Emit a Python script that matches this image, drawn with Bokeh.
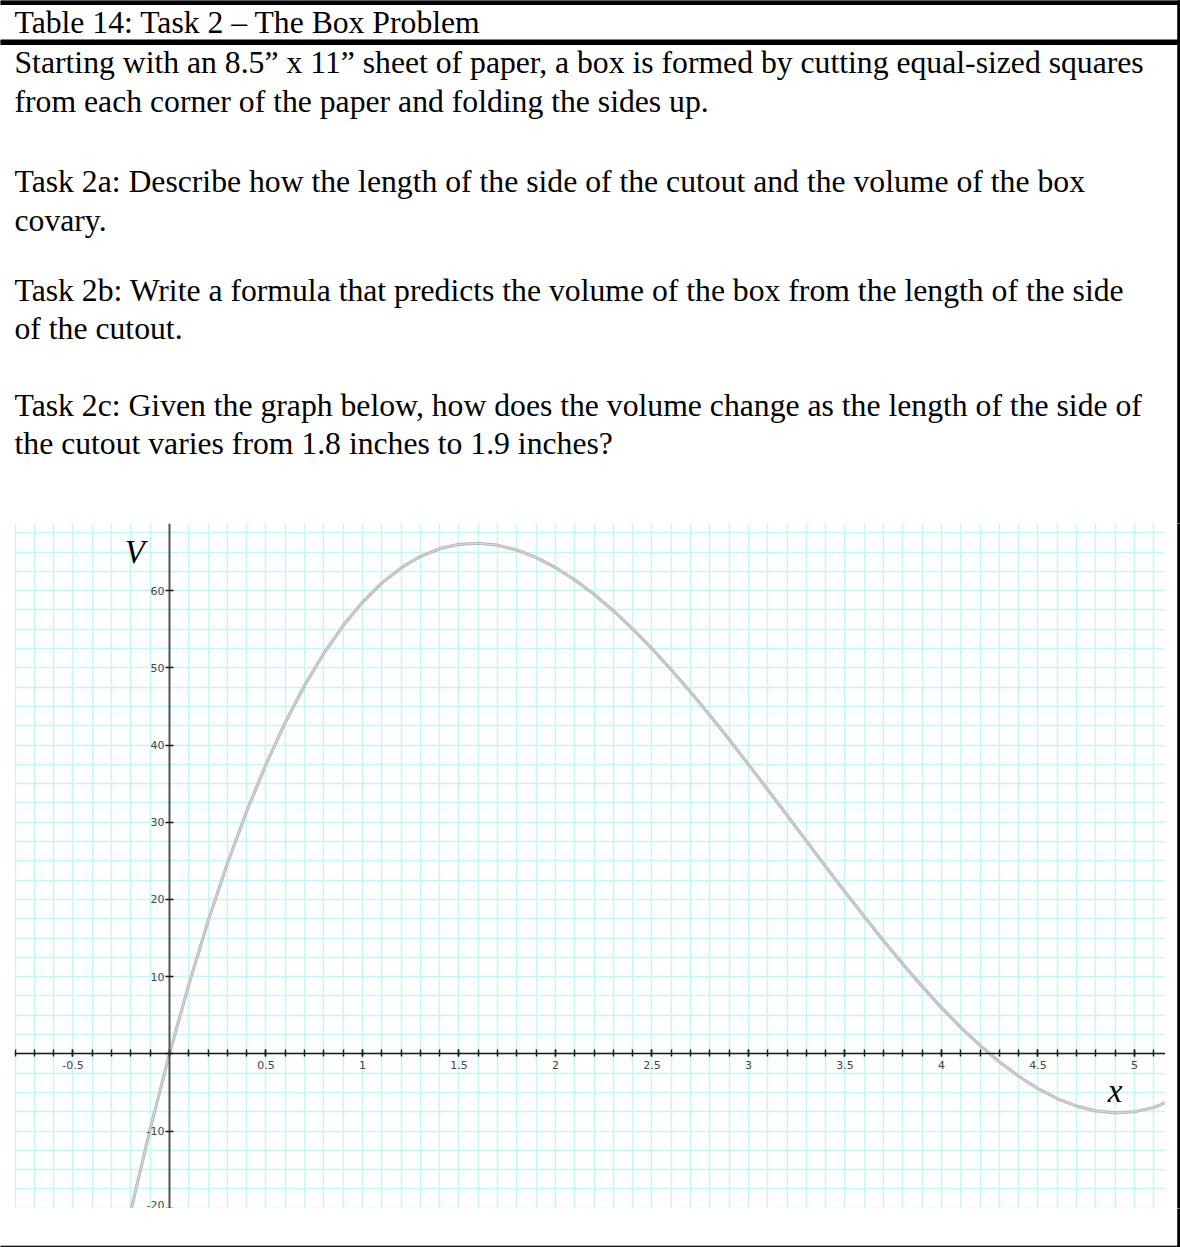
from bokeh.plotting import figure
from bokeh.layouts import column, row
from bokeh.models import (Range1d, LinearAxis, FixedTicker, Grid, Label,
                          NumeralTickFormatter)
from bokeh.core.properties import value
from bokeh.embed import file_html
from bokeh.resources import INLINE

# ---- text of the task sheet ----
header = "Table 14: Task 2 \u2013 The Box Problem"
body_lines = [
    "Starting with an 8.5\u201d x 11\u201d sheet of paper, a box is formed by cutting equal-sized squares",
    "from each corner of the paper and folding the sides up.",
    "Task 2a: Describe how the length of the side of the cutout and the volume of the box",
    "covary.",
    "Task 2b: Write a formula that predicts the volume of the box from the length of the side",
    "of the cutout.",
    "Task 2c: Given the graph below, how does the volume change as the length of the side of",
    "the cutout varies from 1.8 inches to 1.9 inches?",
]
body_rows = [62, 101, 181, 220, 290, 328, 405, 443]

# ---- curve: cutout side x (in) vs box volume V (in^3) ----
cutout_in = [-0.2, -0.1, 0.0, 0.1, 0.2, 0.3, 0.4, 0.5, 0.6, 0.7, 0.8, 0.9,
             1.0, 1.1, 1.2, 1.3, 1.4, 1.5, 1.6, 1.7, 1.8, 1.9, 2.0, 2.1,
             2.2, 2.3, 2.4, 2.5, 2.6, 2.7, 2.8, 2.9, 3.0, 3.1, 3.2, 3.3,
             3.4, 3.5, 3.6, 3.7, 3.8, 3.9, 4.0, 4.1, 4.2, 4.3, 4.4, 4.5,
             4.6, 4.7, 4.8, 4.9, 5.0, 5.1, 5.2]
volume_in3 = [-20.3, -9.74, 0.0, 8.96, 17.17, 24.65, 31.42, 37.5, 42.92, 47.71,
              51.89, 55.48, 58.5, 60.98, 62.95, 64.43, 65.44, 66.0, 66.14, 65.89,
              65.27, 64.3, 63.0, 61.4, 59.53, 57.41, 55.06, 52.5, 49.76, 46.87,
              43.85, 40.72, 37.5, 34.22, 30.91, 27.59, 24.28, 21.0, 17.78, 14.65,
              11.63, 8.74, 6.0, 3.44, 1.09, -1.03, -2.9, -4.5, -5.8, -6.77,
              -7.39, -7.64, -7.5, -6.94, -5.93]

# ---- axis ticks ----
x_major = [-0.5, 0.0, 0.5, 1.0, 1.5, 2.0, 2.5, 3.0, 3.5, 4.0, 4.5, 5.0]
x_minor = [round(-0.8 + 0.1 * i, 1) for i in range(60)]
y_major = [-20, -10, 0, 10, 20, 30, 40, 50, 60]
y_grid = [-20 + 2.5 * i for i in range(36)]

SERIF = "Liberation Serif"
PAGE_W = 1180


def blank_fig(w, h, xr, yr):
    f = figure(width=w, height=h, x_range=xr, y_range=yr,
               x_axis_location=None, y_axis_location=None,
               toolbar_location=None, output_backend="svg",
               min_border=0, outline_line_color=None)
    f.grid.visible = False
    return f


# ---- top block: header cell and task text ----
top = blank_fig(PAGE_W, 523, Range1d(0, PAGE_W), Range1d(523, 0))
top.quad(left=0, right=PAGE_W, top=0, bottom=4, color="black")
top.quad(left=0, right=PAGE_W, top=39.5, bottom=44, color="black")
top.quad(left=1177.3, right=PAGE_W, top=0, bottom=523, color="black")
top.text(x=[14], y=[22], text=[header], text_font=value(SERIF),
         text_font_size="31.7px", text_color="black",
         text_baseline="middle", text_align="left")
top.text(x=[14] * len(body_lines), y=body_rows, text=body_lines,
         text_font=value(SERIF), text_font_size="31.7px", text_color="black",
         text_baseline="middle", text_align="left")

# ---- graph ----
chart = figure(width=1165, height=685,
               x_range=Range1d(-0.803, 5.161), y_range=Range1d(-20.03, 68.7),
               x_axis_location=None, y_axis_location=None,
               toolbar_location=None, output_backend="svg",
               min_border_left=14, min_border_right=0,
               min_border_top=0, min_border_bottom=0,
               outline_line_color=None)
chart.grid.visible = False

grid_color = "#c4f6f6"
chart.add_layout(Grid(dimension=0, ticker=FixedTicker(ticks=x_minor),
                      grid_line_color=grid_color, grid_line_width=1.5), "center")
chart.add_layout(Grid(dimension=1, ticker=FixedTicker(ticks=y_grid),
                      grid_line_color=grid_color, grid_line_width=1.5), "center")

chart.line(cutout_in, volume_in3, line_color="#bababa", line_width=3.2)
chart.line(cutout_in, volume_in3, line_color="#dedede", line_width=0.9)

label_font = "DejaVu Sans"
xaxis = LinearAxis(fixed_location=0,
                   ticker=FixedTicker(ticks=x_major, minor_ticks=x_minor),
                   formatter=NumeralTickFormatter(format="0.[0]"),
                   major_label_overrides={0: ""},
                   axis_line_color="#1a1a1a", axis_line_width=1.5,
                   major_tick_line_color="#1a1a1a", major_tick_line_width=1.5,
                   minor_tick_line_color="#1a1a1a", minor_tick_line_width=1.5,
                   major_tick_in=4, major_tick_out=3,
                   minor_tick_in=4, minor_tick_out=3,
                   major_label_standoff=4,
                   major_label_text_font=label_font,
                   major_label_text_font_size="11px",
                   major_label_text_color="#444444")
chart.add_layout(xaxis, "below")

yaxis = LinearAxis(fixed_location=0,
                   ticker=FixedTicker(ticks=y_major),
                   formatter=NumeralTickFormatter(format="0"),
                   major_label_overrides={0: ""},
                   axis_line_color="#555555", axis_line_width=2,
                   major_tick_line_color="#1a1a1a", major_tick_line_width=1.5,
                   minor_tick_line_color=None,
                   major_tick_in=4, major_tick_out=4,
                   major_label_standoff=1,
                   major_label_text_font=label_font,
                   major_label_text_font_size="11px",
                   major_label_text_color="#444444")
chart.add_layout(yaxis, "left")

chart.add_layout(Label(x=-0.18, y=65.0, text="V", text_font=SERIF,
                       text_font_style="italic", text_font_size="33px",
                       text_align="center", text_baseline="middle",
                       text_color="black"))
chart.add_layout(Label(x=4.9, y=-4.75, text="x", text_font=SERIF,
                       text_font_style="italic", text_font_size="33px",
                       text_align="center", text_baseline="middle",
                       text_color="black"))

# right-hand table border beside the graph
right_edge = blank_fig(15, 685, Range1d(0, 15), Range1d(0, 685))
right_edge.quad(left=12.3, right=15, bottom=0, top=685, color="black")

# ---- bottom of the cell ----
bottom = blank_fig(PAGE_W, 39, Range1d(0, PAGE_W), Range1d(39, 0))
bottom.quad(left=1177.3, right=PAGE_W, top=0, bottom=39, color="black")
bottom.quad(left=0, right=PAGE_W, top=37.7, bottom=39, color="black")

page = column(top, row(chart, right_edge), bottom)

open("out.html", "w").write(file_html(page, INLINE))
